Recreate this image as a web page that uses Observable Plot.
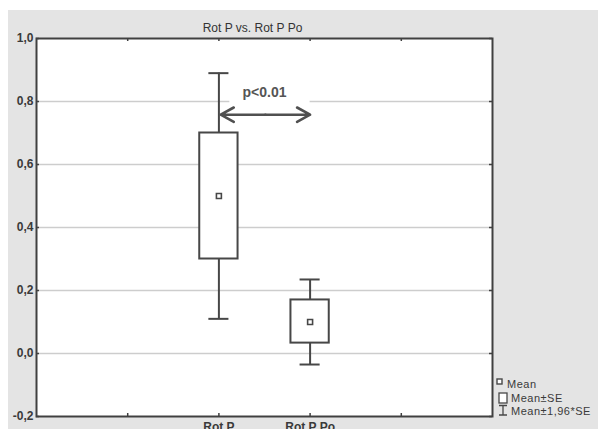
<!DOCTYPE html>
<html><head><meta charset="utf-8">
<script src="https://cdn.jsdelivr.net/npm/d3@7"></script>
<script src="https://cdn.jsdelivr.net/npm/@observablehq/plot@0.6"></script>
<style>
html,body{margin:0;padding:0;background:#fff;}
#chart svg{display:block;}
</style></head><body><div id="chart"></div>
<script>
// Data
const categories = ["Rot P", "Rot P Po"];
const means = [0.50, 0.10];
const boxLow = [0.30, 0.033];      // Mean - SE
const boxHigh = [0.70, 0.17];      // Mean + SE
const whiskerLow = [0.11, -0.035]; // Mean - 1.96*SE
const whiskerHigh = [0.89, 0.235]; // Mean + 1.96*SE
const yTicks = [-0.2, 0.0, 0.2, 0.4, 0.6, 0.8, 1.0];
const gridValues = [0.0, 0.2, 0.4, 0.6, 0.8];
const xTicks = [1, 2, 3, 4];
const title = "Rot P vs. Rot P Po";
const pLabel = "p<0.01";
const legendLabels = ["Mean", "Mean±SE", "Mean±1,96*SE"];
// annotation (in data units)
const arrowFrom = 2.02, arrowTo = 3.0, arrowY = 0.758;
const labelX = 2.5, labelY = 0.813;
const labelBg = {x1: 2.12, x2: 3.0, y1: 0.785, y2: 0.83};

const data = categories.map((c, i) => ({
  cat: c, pos: i + 2, mean: means[i], lo: boxLow[i], hi: boxHigh[i],
  wlo: whiskerLow[i], whi: whiskerHigh[i]
}));
const mid = (arrowFrom + arrowTo) / 2;
const arrows = [{x1: mid, x2: arrowFrom, y: arrowY}, {x1: mid, x2: arrowTo, y: arrowY}];

const boxHalf = 0.21, capHalf = 0.11;
const ink = "#474747";

const chart = Plot.plot({
  width: 598, height: 429,
  marginLeft: 36, marginRight: 106, marginTop: 38, marginBottom: 13,
  x: {domain: [0, 5]},
  y: {domain: [-0.2, 1.0]},
  style: {
    fontFamily: "'Liberation Sans', Arial, sans-serif",
    background: "linear-gradient(#e4e4e4,#e4e4e4) 8px 10px / 590px 419px no-repeat, #ffffff",
    overflow: "visible"
  },
  marks: [
    Plot.frame({fill: "white"}),
    Plot.ruleY(gridValues, {y: d => d, stroke: "#cdcdcd", strokeWidth: 1.6}),
    Plot.rect([labelBg], {x1: "x1", x2: "x2", y1: "y1", y2: "y2", fill: "white"}),
    Plot.ruleX(data, {x: "pos", y1: "wlo", y2: "whi", stroke: ink, strokeWidth: 2}),
    Plot.ruleY(data, {y: "whi", x1: d => d.pos - capHalf, x2: d => d.pos + capHalf, stroke: ink, strokeWidth: 2}),
    Plot.ruleY(data, {y: "wlo", x1: d => d.pos - capHalf, x2: d => d.pos + capHalf, stroke: ink, strokeWidth: 2}),
    Plot.rect(data, {x1: d => d.pos - boxHalf, x2: d => d.pos + boxHalf, y1: "lo", y2: "hi", fill: "white", stroke: ink, strokeWidth: 2}),
    Plot.dot(data, {x: "pos", y: "mean", symbol: "square", r: 2.8, fill: "white", stroke: ink, strokeWidth: 1.6}),
    Plot.arrow(arrows, {x1: "x1", y1: "y", x2: "x2", y2: "y", stroke: "#505050", strokeWidth: 2.6, headLength: 13, headAngle: 58}),
    Plot.text([pLabel], {x: labelX, y: labelY, text: d => d, lineAnchor: "bottom", fontSize: 14, fontWeight: "bold", fill: "#555"}),
    Plot.frame({stroke: "#404040", strokeWidth: 2}),
    Plot.tickY(yTicks, {y: d => d, insetRight: 453, stroke: "#404040", strokeWidth: 1.5}),
    Plot.tickY(yTicks, {y: d => d, insetLeft: 453, stroke: "#404040", strokeWidth: 1.5}),
    Plot.tickX(xTicks, {x: d => d, insetBottom: 375, stroke: "#404040", strokeWidth: 1.5}),
    Plot.tickX(xTicks, {x: d => d, insetTop: 375, stroke: "#404040", strokeWidth: 1.5}),
    Plot.axisY(yTicks, {anchor: "left", tickSize: 0, tickPadding: 3, label: null,
      tickFormat: d => d.toFixed(1).replace(".", ","), fontSize: 12, fontWeight: "bold", fill: "#3a3a3a"}),
    Plot.axisX(data.map(d => d.pos), {anchor: "bottom", tickSize: 0, tickPadding: 6, label: null,
      tickFormat: p => categories[p - 2], fontSize: 12, fontWeight: "bold", fill: "#3a3a3a"}),
    Plot.text([title], {frameAnchor: "top", dx: -12, dy: -15, text: d => d, fontSize: 12, fill: "#333"})
  ]
});
document.getElementById("chart").append(chart);

// legend in the right margin
const svg = d3.select(chart);
const lg = svg.append("g").attr("font-family", "'Liberation Sans', Arial, sans-serif")
  .attr("font-size", 11).attr("fill", "#3a3a3a").attr("letter-spacing", "0.5px")
  .attr("text-anchor", "start");
const lx = 497, baseY = [388, 402, 415];
// Mean symbol
lg.append("rect").attr("x", lx).attr("y", 379).attr("width", 5).attr("height", 5)
  .attr("fill", "white").attr("stroke", ink).attr("stroke-width", 1.4);
// Box symbol
lg.append("rect").attr("x", lx + 2).attr("y", 393).attr("width", 8).attr("height", 10)
  .attr("fill", "white").attr("stroke", ink).attr("stroke-width", 1.3);
// Whisker symbol
lg.append("path").attr("d", `M${lx+2},405.5H${lx+10}M${lx+6},405.5V415M${lx+2},415H${lx+10}`)
  .attr("fill", "none").attr("stroke", ink).attr("stroke-width", 1.3);
legendLabels.forEach((t, i) => {
  lg.append("text").attr("x", i === 0 ? lx + 10 : lx + 14).attr("y", baseY[i])
    .attr("text-anchor", "start").text(t);
});
</script></body></html>
